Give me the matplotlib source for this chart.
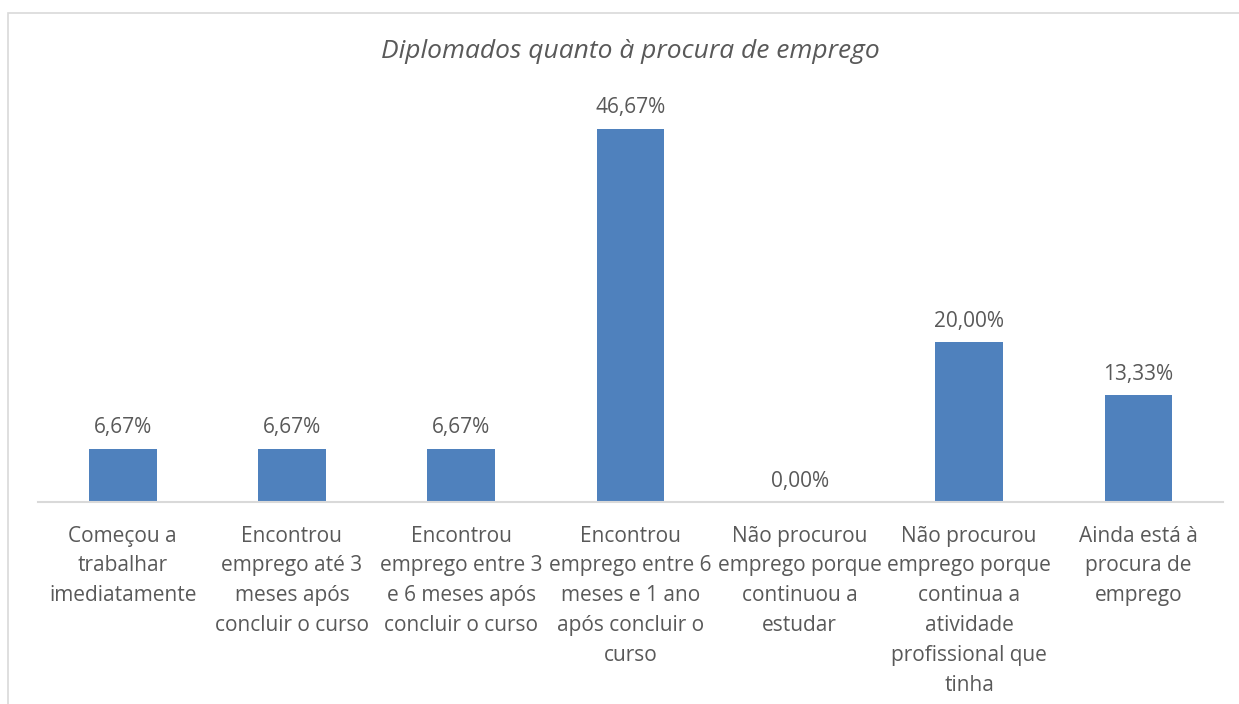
import matplotlib.pyplot as plt
from matplotlib.patches import Rectangle

categorias = [
    "Começou a\ntrabalhar\nimediatamente",
    "Encontrou\nemprego até 3\nmeses após\nconcluir o curso",
    "Encontrou\nemprego entre 3\ne 6 meses após\nconcluir o curso",
    "Encontrou\nemprego entre 6\nmeses e 1 ano\napós concluir o\ncurso",
    "Não procurou\nemprego porque\ncontinuou a\nestudar",
    "Não procurou\nemprego porque\ncontinua a\natividade\nprofissional que\ntinha",
    "Ainda está à\nprocura de\nemprego",
]
valores = [6.67, 6.67, 6.67, 46.67, 0.00, 20.00, 13.33]

cinza = "#595959"
plt.rcParams['font.family'] = ['Open Sans', 'DejaVu Sans']

fig = plt.figure(figsize=(12.39, 7.04), dpi=100)
ax = fig.add_axes([38/1239, 1-502/704, (1223-38)/1239, 400/704])

x = range(len(valores))
ax.bar(x, valores, width=0.4, color="#4F81BD")
for i, v in enumerate(valores):
    ax.text(i, v + 1.3, f"{v:.2f}".replace(".", ",") + "%", ha="center", va="bottom",
            fontsize=15, color=cinza)

ax.set_xlim(-0.5, len(valores) - 0.5)
ax.set_ylim(0, 50)
ax.set_yticks([])
ax.set_xticks(list(x))
ax.set_xticklabels(categorias, fontsize=15, color=cinza, linespacing=1.55)
ax.tick_params(axis="x", length=0, pad=17)
for s in ["top", "right", "left"]:
    ax.spines[s].set_visible(False)
ax.spines["bottom"].set_color("#D9D9D9")
ax.spines["bottom"].set_linewidth(1.5)

fig.text(630/1239, 1-52/704, "Diplomados quanto à procura de emprego", ha="center", va="center",
         fontsize=19, style="italic", color=cinza)

fig.patches.append(Rectangle((8/1239, -0.05), 1.2, 1.05 - 13/704, transform=fig.transFigure,
                             fill=False, edgecolor="#D9D9D9", linewidth=1.2))

fig.savefig("out.png", dpi=100)
